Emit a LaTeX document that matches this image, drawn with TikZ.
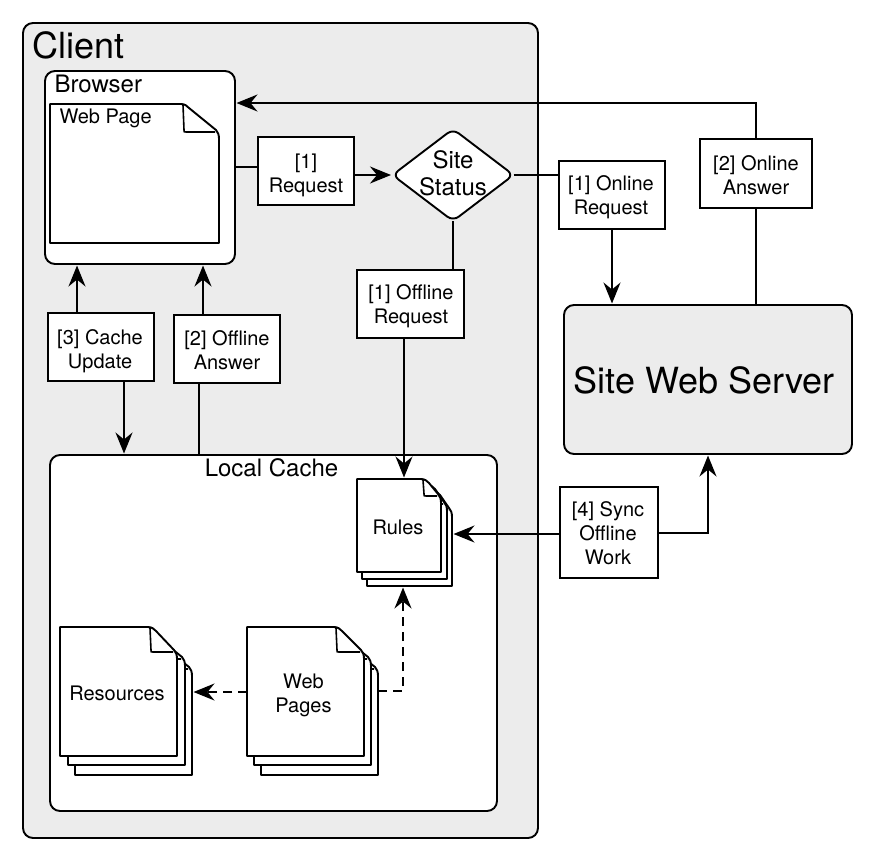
\documentclass[tikz,border=0pt]{standalone}
\usepackage{fontspec}
\setmainfont{TeX Gyre Heros}
\usetikzlibrary{arrows.meta,shapes.geometric}
\definecolor{panel}{HTML}{ECECEC}
\tikzset{
  x=1pt,y=-1pt,
  every node/.style={inner sep=0pt,outer sep=0pt},
  conn/.style={line width=1.8pt,draw=black,line join=miter},
  arr/.style={conn,-{Stealth[length=21pt,width=17pt,inset=7pt]},shorten >=1.5pt},
  dash line/.style={dash pattern=on 9pt off 6pt},
  container/.style={draw=black,line width=1.9pt,rounded corners=10pt,anchor=north west},
  label box/.style={draw=black,fill=white,line width=1.9pt},
  page/.style={draw=black,fill=white,line width=1.9pt,line join=round},
  doc text/.style={align=center,font=\fontsize{20}{24}\selectfont},
}
% \foldpage{left}{top}{right}{bottom}{fold width}{fold height}
\newcommand{\foldpage}[6]{%
  \path[page] (#1,#2) -- ({#3-#5-2},#2) .. controls ({#3-#5+2},#2) and ({#3-#5+4},{#2+2}) .. ({#3-#5+6},{#2+4})
    -- ({#3-3},{#2+#6-3}) .. controls ({#3-1},{#2+#6-1}) and (#3,{#2+#6+2}) .. (#3,{#2+#6+6})
    -- (#3,#4) -- (#1,#4) -- cycle;
  \path[draw=black,line width=1.6pt] ({#3-#5},{#2+1}) -- ({#3-#5+1},{#2+#6-3}) .. controls ({#3-#5+1},{#2+#6-1}) .. ({#3-#5+3},{#2+#6-1}) -- ({#3-4},{#2+#6-1});
}
% name, x0, y0, x1, y1, text centre x, text centre y, text
\newcommand{\boxnode}[8]{%
  \node[label box,minimum width={(#4-#2)*1pt},minimum height={(#5-#3)*1pt}] (#1) at ({(#2+#4)/2},{(#3+#5)/2}) {};
  \node[doc text] (#1text) at (#6,#7) {#8};
}
\begin{document}
\begin{tikzpicture}
\useasboundingbox (0,0) rectangle (874,860);
% containers
\node[container,fill=panel,minimum width=515pt,minimum height=815pt] (client) at (23,23) {};
\node[font=\fontsize{36}{40}\selectfont,anchor=west] (clientlabel) at (32.5,45) {Client};
\node[container,fill=white,minimum width=190pt,minimum height=193pt] (browser) at (45,71) {};
\node[font=\fontsize{24}{28}\selectfont,anchor=west] (browserlabel) at (54.5,84) {Browser};
\foldpage{50}{104}{219}{243}{36}{29}
\node[font=\fontsize{20}{24}\selectfont,anchor=west] (webpage) at (59.5,118) {Web Page};
\node[container,fill=white,minimum width=447pt,minimum height=356pt] (cache) at (50,455) {};
\node[font=\fontsize{24}{28}\selectfont] (cachelabel) at (271.5,468) {Local Cache};
\node[container,fill=panel,minimum width=288pt,minimum height=149pt] (server) at (564,305) {};
\node[font=\fontsize{36}{40}\selectfont] (serverlabel) at (704,380) {Site Web Server};
% documents
\foldpage{367}{491}{452}{586}{18}{20}
\foldpage{362}{485}{447}{579}{18}{20}
\foldpage{357}{479}{441}{572}{18}{18}
\node[doc text] (ruleslabel) at (398,527) {Rules};
\node[minimum width=95pt,minimum height=107pt] (rules) at (404.5,532.5) {};
\foldpage{75}{646}{192}{775}{30}{24}
\foldpage{68}{636}{185}{765}{30}{24}
\foldpage{60}{627}{177}{756}{27}{26}
\node[doc text] (reslabel) at (117,693) {Resources};
\node[minimum width=132pt,minimum height=148pt] (res) at (126,701) {};
\foldpage{261}{646}{378}{775}{30}{24}
\foldpage{254}{636}{371}{765}{30}{24}
\foldpage{247}{627}{364}{756}{28}{26}
\node[doc text] (wplabel) at (303.5,695.5) {Web\\Pages};
\node[minimum width=131pt,minimum height=148pt] (wp) at (312.5,701) {};
% decision
\node[draw=black,fill=white,line width=1.9pt,shape=diamond,rounded corners=7pt,shape aspect=1.32,minimum width=121pt,minimum height=92pt] (status) at (453,175) {};
\node[align=center,font=\fontsize{24}{27}\selectfont] (statustext) at (453,173) {Site\\Status};
% label boxes
\boxnode{request}{258}{137}{354}{205}{306}{175}{[1]\\Request}
\boxnode{onlinereq}{559}{161}{665}{229}{611}{197}{[1] Online\\Request}
\boxnode{onlineans}{700}{139}{812}{208}{756}{175.5}{[2] Online\\Answer}
\boxnode{offlinereq}{357}{270}{464}{338}{411}{306.5}{[1] Offline\\Request}
\boxnode{cacheupd}{48}{313}{154}{381}{100}{351}{[3] Cache\\Update}
\boxnode{offlineans}{174}{315}{280}{383}{227}{350}{[2] Offline\\Answer}
\boxnode{sync}{560}{487}{658}{578}{608}{533.5}{[4] Sync\\Offline\\Work}
% connectors
\draw[conn] (browser.east |- 0,167) -- (request.west |- 0,167);
\draw[arr] (request.east |- 0,175) -- (status.west);
\draw[conn] (status.east) -- (onlinereq.west |- status.east);
\draw[arr] (onlinereq.south) -- (server.north -| onlinereq.south);
\draw[conn] (server.north -| onlineans.south) -- (onlineans.south);
\draw[arr] (onlineans.north) |- (browser.east |- 0,103);
\draw[conn] (status.south) -- (offlinereq.north -| status.south);
\draw[arr] (offlinereq.south -| 404,0) -- (rules.north -| 404,0);
\draw[arr] (cacheupd.north -| 77,0) -- (browser.south -| 77,0);
\draw[arr] (cacheupd.south -| 124,0) -- (cache.north -| 124,0);
\draw[conn] (cache.north -| 199,0) -- (offlineans.south -| 199,0);
\draw[arr] (offlineans.north -| 203,0) -- (browser.south -| 203,0);
\draw[arr] (sync.west |- 0,534) -- (rules.east |- 0,534);
\draw[arr] (sync.east |- 0,533) -| (server.south -| 708,0);
\draw[arr,dash line] (wp.west |- 0,692) -- (res.east |- 0,692);
\draw[arr,dash line] (wp.east |- 0,691) -| (rules.south -| 403,0);
\end{tikzpicture}
\end{document}
